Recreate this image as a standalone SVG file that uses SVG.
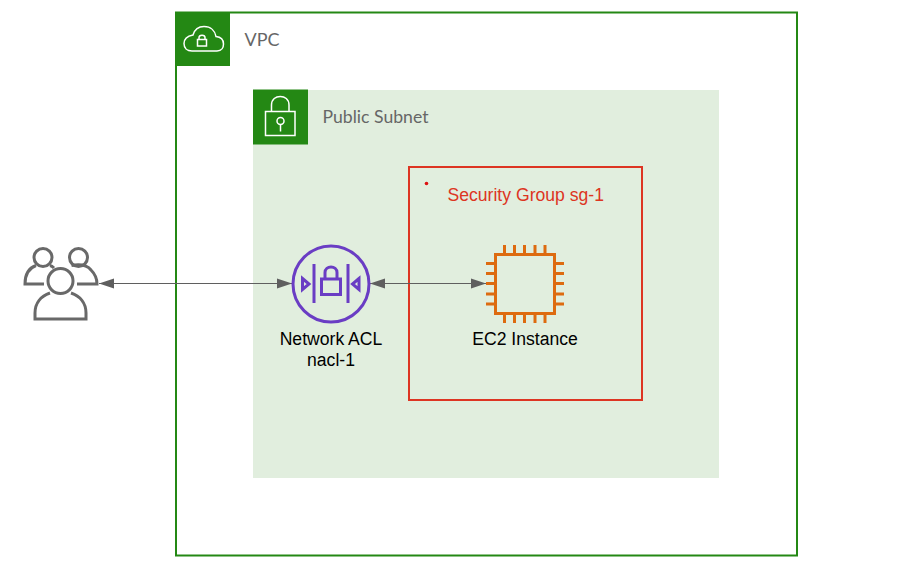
<svg xmlns="http://www.w3.org/2000/svg" width="897" height="570" viewBox="0 0 897 570">
<style>
text{font-family:"Liberation Sans",Arial,sans-serif}
.lbl{font-size:17.600px;fill:#000;text-anchor:middle}
.grp{font-family:"Lato","Liberation Sans",sans-serif;fill:#666}
.w{fill:none;stroke:#fff;stroke-width:1.5}
.pu{fill:none;stroke:#6a3dc4;stroke-width:3}
.or{fill:none;stroke:#dd6b10;stroke-width:3}
.gr{fill:none;stroke:#696969;stroke-width:3}
.conn{stroke:#5f5f5f;stroke-width:1;fill:none;marker-start:url(#a);marker-end:url(#a)}
</style>
<defs>
<marker id="a" markerUnits="userSpaceOnUse" markerWidth="16" markerHeight="12" refX="15" refY="6" orient="auto-start-reverse"><path d="M0 1 L15 6 L0 11Z" fill="#5f5f5f"/></marker>
</defs>
<rect width="897" height="570" fill="#fff"/>
<g id="vpc">
<rect x="176" y="12.500" width="621" height="543" fill="#fff" stroke="#248814" stroke-width="2"/>
<rect x="175" y="12" width="55" height="54" fill="#248814"/>
<path class="w" d="M192 51 H217 C222 51 223.500 47 223.500 44 C223.500 40 221 37 216 36.500 C215 31 211 26.500 204 26.500 C198 26.500 194.500 30 193 35 C188 36 184 39 184 43.500 C184 48 187 51 192 51Z"/>
<rect class="w" x="197.500" y="39.500" width="9" height="6.500"/>
<path class="w" d="M199 39.500 V37.500 C199 34.500 205 34.500 205 37.500 V39.500"/>
<text class="grp" x="244.500" y="45.500" font-size="18" textLength="35" lengthAdjust="spacingAndGlyphs">VPC</text>
</g>
<g id="subnet">
<rect x="253" y="90" width="466" height="388" fill="#e1eede"/>
<rect x="253" y="89.500" width="55" height="55" fill="#248814"/>
<rect class="w" x="265.500" y="111.500" width="29.500" height="24"/>
<path class="w" d="M271.500 111.500 V105 C271.500 93.500 289 93.500 289 105 V111.500"/>
<circle class="w" cx="280.500" cy="121" r="3.500"/>
<path class="w" d="M280.500 124.500 V131.500"/>
<text class="grp" x="322.500" y="123" font-size="17.500" textLength="106" lengthAdjust="spacingAndGlyphs">Public Subnet</text>
</g>
<g id="security-group">
<rect x="409" y="167" width="233" height="233" fill="none" stroke="#dd3522" stroke-width="2"/>
<circle cx="426.500" cy="183.500" r="1.800" fill="#dd1111"/>
<text x="447.500" y="200.500" font-size="17.600" fill="#dd3522">Security Group sg-1</text>
</g>
<g id="connectors">
<path class="conn" d="M99 283.500 H292"/>
<path class="conn" d="M370 283.500 H486"/>
</g>
<g id="users">
<circle class="gr" cx="43" cy="257.500" r="9"/>
<circle class="gr" cx="78.500" cy="257.500" r="9"/>
<path class="gr" d="M44 284 H25 C25 274 29 268 36 265.500"/>
<path class="gr" d="M50 265.500 C52 266 53 267 54 268"/>
<path class="gr" d="M71.500 265.500 C80 264 87 265 91 270 C95 274 97 279 97 284 H77"/>
<circle class="gr" cx="60.500" cy="281" r="12.500"/>
<path class="gr" d="M50 293 C41 296 35 303 35 313 V319 H86 V313 C86 303 80 296 71 293"/>
</g>
<g id="nacl">
<circle class="pu" cx="331" cy="284" r="38"/>
<path class="pu" d="M314 264 V303 M348 264 V303"/>
<rect class="pu" x="321.500" y="279" width="19" height="15.500"/>
<path class="pu" d="M325 279 V272.500 C325 265 337 265 337 272.500 V279"/>
<path class="pu" d="M302.500 278.500 L309 284 L302.500 289.500Z M359 278.500 L352.500 284 L359 289.500Z"/>
<text class="lbl" x="331" y="345">Network ACL</text>
<text class="lbl" x="331" y="366">nacl-1</text>
</g>
<g id="ec2">
<rect class="or" x="495.500" y="254.500" width="59" height="59"/>
<path class="or" d="M504.500 245 V254 M514.500 245 V254 M524.500 245 V254 M535 245 V254 M545 245 V254 M504.500 314 V323 M514.500 314 V323 M524.500 314 V323 M535 314 V323 M545 314 V323 M486 263.500 H495 M486 273.500 H495 M486 283.500 H495 M486 294 H495 M486 304 H495 M555 263.500 H564 M555 273.500 H564 M555 283.500 H564 M555 294 H564 M555 304 H564"/>
<text class="lbl" x="525" y="345">EC2 Instance</text>
</g>
</svg>
